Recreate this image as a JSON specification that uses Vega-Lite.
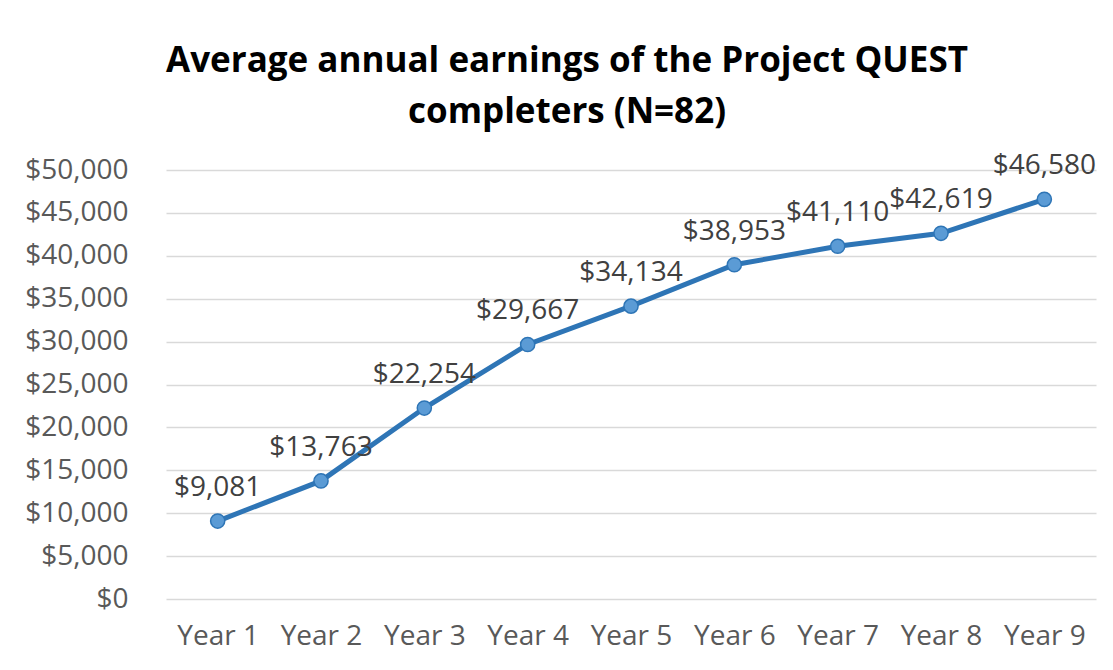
{
  "$schema": "https://vega.github.io/schema/vega-lite/v6.json",
  "width": 930,
  "height": 429,
  "autosize": {"type": "none"},
  "padding": {"left": 166, "top": 170, "right": 17, "bottom": 71},
  "background": "white",
  "title": {
    "text": ["Average annual earnings of the Project QUEST", "completers (N=82)"],
    "font": "Open Sans",
    "fontSize": 35,
    "fontWeight": "bold",
    "color": "#000000",
    "anchor": "middle",
    "dx": -64,
    "lineHeight": 51,
    "offset": 22
  },
  "config": {
    "view": {"stroke": null},
    "font": "Open Sans"
  },
  "data": {
    "values": [
      {"year": "Year 1", "earnings": 9081},
      {"year": "Year 2", "earnings": 13763},
      {"year": "Year 3", "earnings": 22254},
      {"year": "Year 4", "earnings": 29667},
      {"year": "Year 5", "earnings": 34134},
      {"year": "Year 6", "earnings": 38953},
      {"year": "Year 7", "earnings": 41110},
      {"year": "Year 8", "earnings": 42619},
      {"year": "Year 9", "earnings": 46580}
    ]
  },
  "encoding": {
    "x": {
      "field": "year",
      "type": "ordinal",
      "scale": {"type": "point", "padding": 0.5},
      "axis": {
        "title": null,
        "labelAngle": 0,
        "labelFont": "Open Sans",
        "labelFontSize": 28,
        "labelColor": "#595959",
        "labelPadding": 23,
        "domain": false,
        "ticks": false,
        "grid": false
      }
    },
    "y": {
      "field": "earnings",
      "type": "quantitative",
      "scale": {"domain": [0, 50000], "nice": false},
      "axis": {
        "title": null,
        "values": [0, 5000, 10000, 15000, 20000, 25000, 30000, 35000, 40000, 45000, 50000],
        "format": "$,.0f",
        "labelFont": "Open Sans",
        "labelFontSize": 28,
        "labelColor": "#595959",
        "labelPadding": 38,
        "domain": false,
        "ticks": false,
        "grid": true,
        "gridColor": "#D9D9D9",
        "gridWidth": 1.3
      }
    }
  },
  "layer": [
    {
      "mark": {"type": "line", "color": "#2E75B6", "strokeWidth": 5}
    },
    {
      "mark": {"type": "point", "filled": true, "fill": "#5B9BD5", "stroke": "#2E75B6", "strokeWidth": 1.5, "size": 200, "opacity": 1}
    },
    {
      "mark": {"type": "text", "dy": -25, "baseline": "alphabetic", "align": "center", "font": "Open Sans", "fontSize": 28, "color": "#404040"},
      "encoding": {
        "text": {"field": "earnings", "type": "quantitative", "format": "$,.0f"}
      }
    }
  ]
}
